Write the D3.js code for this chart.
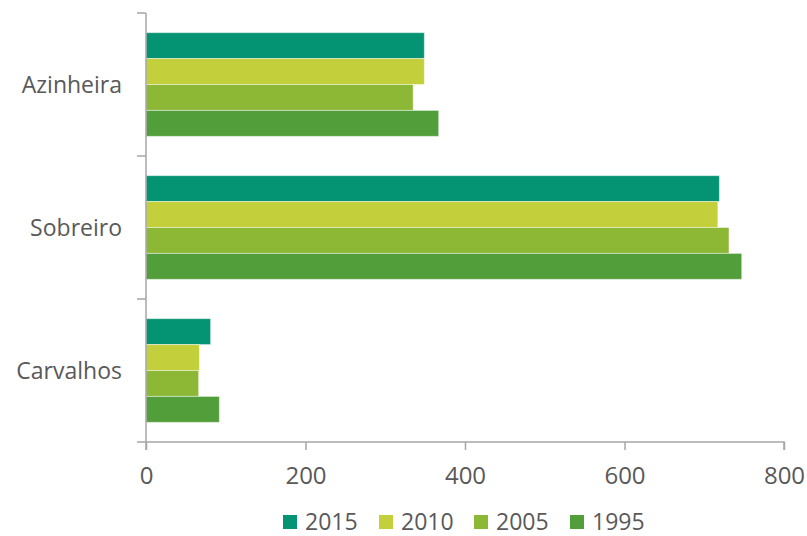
<!DOCTYPE html>
<html><head><meta charset="utf-8">
<script src="https://cdn.jsdelivr.net/npm/d3@7"></script>
<style>body{margin:0;background:#fff}svg{display:block}</style>
</head><body>
<svg id="c" width="807" height="536"></svg>
<script>
const categories = ["Azinheira", "Sobreiro", "Carvalhos"];
const seriesNames = ["2015", "2010", "2005", "1995"];
const values2015 = [349, 719, 81];
const values2010 = [349, 717, 67];
const values2005 = [335, 731, 66];
const values1995 = [367, 747, 92];
const xTicks = [0, 200, 400, 600, 800];
const colors = ["#049473", "#c3cf3b", "#8cb836", "#529e3a"];

const series = [values2015, values2010, values2005, values1995];
const data = categories.map((c, i) => ({cat: c, vals: seriesNames.map((s, j) => ({s, v: series[j][i], j}))}));

const svg = d3.select("#c");
const font = "'Open Sans', sans-serif";
const textColor = "#595959";
const axisColor = "#a6a6a6";

const x = d3.scaleLinear().domain([0, 800]).range([146, 784]);
const y0 = d3.scaleBand().domain(categories).range([13, 442]).paddingInner(0.275).paddingOuter(0.1375);
const y1 = d3.scaleBand().domain(seriesNames).range([0, y0.bandwidth()]);
const color = d3.scaleOrdinal().domain(seriesNames).range(colors);

// bars
const g = svg.append("g");
g.selectAll("g.cat").data(data).join("g")
  .attr("transform", d => `translate(0,${y0(d.cat)})`)
  .selectAll("rect").data(d => d.vals).join("rect")
  .attr("x", x(0))
  .attr("y", d => y1(d.s))
  .attr("width", d => x(d.v) - x(0))
  .attr("height", y1.bandwidth())
  .attr("fill", d => color(d.s))
  .attr("stroke", "rgba(255,255,255,0.45)")
  .attr("stroke-width", 1);

// x axis
const xAxis = svg.append("g").attr("transform", "translate(0,442)")
  .call(d3.axisBottom(x).tickValues(xTicks).tickSize(8).tickPadding(17).tickFormat(d3.format("d")));
xAxis.select(".domain").attr("stroke", axisColor).attr("stroke-width", 1.5).attr("d", `M${x(0)},0H${x(800)}V8`);
xAxis.selectAll(".tick line").attr("stroke", axisColor).attr("stroke-width", 1.5);
xAxis.selectAll(".tick text").attr("fill", textColor).style("font-family", font).style("font-size", "24px");

// y axis with boundary ticks
const yAxisG = svg.append("g");
yAxisG.append("line").attr("x1", x(0)).attr("x2", x(0)).attr("y1", y0.range()[0]).attr("y2", y0.range()[1] + 8)
  .attr("stroke", axisColor).attr("stroke-width", 1.5);
const step = y0.step();
const boundaries = d3.range(categories.length + 1).map(i => y0.range()[0] + i * step);
yAxisG.selectAll("line.b").data(boundaries).join("line").attr("class", "b")
  .attr("x1", x(0) - 9).attr("x2", x(0)).attr("y1", d => d).attr("y2", d => d)
  .attr("stroke", axisColor).attr("stroke-width", 1.5);
yAxisG.selectAll("text").data(categories).join("text")
  .attr("x", 122).attr("y", d => y0(d) + y0.bandwidth() / 2)
  .attr("text-anchor", "end").attr("dy", "0.35em")
  .attr("fill", textColor).style("font-family", font).style("font-size", "23px")
  .text(d => d);

// legend
const legend = svg.append("g");
const legX = [283, 379, 474, 570];
const items = legend.selectAll("g").data(seriesNames).join("g")
  .attr("transform", (d, i) => `translate(${legX[i]},515)`);
items.append("rect").attr("width", 14).attr("height", 14).attr("fill", d => color(d));
items.append("text").attr("x", 22).attr("y", 7).attr("dy", "0.36em")
  .attr("fill", textColor).style("font-family", font).style("font-size", "23px")
  .text(d => d);
</script>
</body></html>
